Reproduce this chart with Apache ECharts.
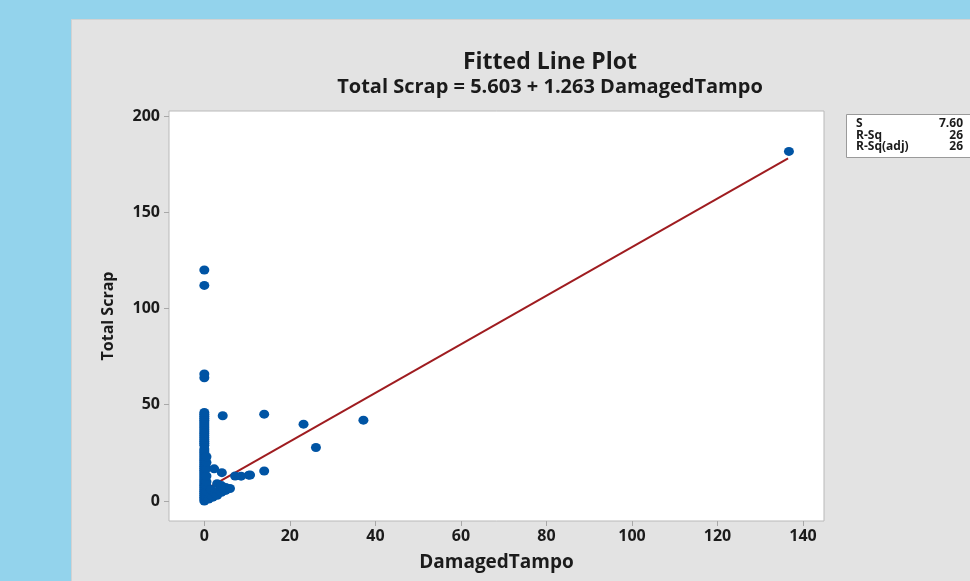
<!DOCTYPE html>
<html>
<head>
<meta charset="utf-8">
<script src="https://cdn.jsdelivr.net/npm/echarts@6/dist/echarts.min.js"></script>
<style>
  html, body { margin: 0; padding: 0; background: #93d3ec; }
  #chart { width: 970px; height: 581px; }
</style>
</head>
<body>
<div id="chart"></div>
<script>
// scatter points (DamagedTampo, Total Scrap)
const pointsX = [
  0, 0, 0, 0, 0, 0, 0, 0, 0, 0, 0, 0, 0, 0, 0, 0, 0, 0, 0, 0,
  0, 0, 0, 0, 0, 0, 0, 0, 0, 0, 0, 0, 0, 0, 0, 0, 0, 0, 0, 0,
  0, 0, 0, 0, 0, 0, 0, 0, 0, 0,
  0.5, 0.5, 0.5, 0.5, 0.5, 0.5, 0.5, 0.5,
  1, 1.5, 1.5, 2, 2.5, 3, 3, 3.5, 4, 4, 4.5, 5, 5, 6,
  2.3, 4.1, 7.2, 8.6, 10.4, 14, 10.7,
  4.3, 14, 23.2, 26.1, 37.2, 136.7
]
const pointsY = [
  0, 1, 2, 3, 4, 5, 6, 7, 8, 9, 10, 11, 12, 13, 14, 15, 16, 17, 18, 19,
  20, 21, 22, 23, 24, 25, 26, 27, 29, 30, 31, 32, 33, 34, 35, 36, 37, 38, 39, 40,
  41, 42, 43, 44, 45, 46, 64, 66, 112, 120,
  2, 5, 8, 10, 13, 17, 20, 23,
  1, 3, 6, 2, 4, 3, 9, 5.5, 4.5, 8, 6, 5.5, 7, 6.5,
  16.7, 14.7, 13, 12.9, 13.4, 15.6, 13.5,
  44.3, 45.1, 39.9, 27.8, 42, 181.6
]

// fitted line: Total Scrap = 5.603 + 1.263 DamagedTampo
const fitX = [0, 136.5]
const fitY = [5.603, 178.0]

const xTicks = [0, 20, 40, 60, 80, 100, 120, 140]
const yTicks = [0, 50, 100, 150, 200]

const statNames = ['S', 'R-Sq', 'R-Sq(adj)']
const statValues = ['7.60', '26', '26']

const FONT = '"Open Sans", "Noto Sans", sans-serif'
const TEXT = '#1b1b1b'

const chart = echarts.init(document.getElementById('chart'))

const statGraphics = []
statNames.forEach((name, i) => {
  statGraphics.push({
    type: 'text', left: 856, top: 118 + i * 11.3, z: 6,
    style: { text: name, font: 'bold 12px ' + FONT, fill: TEXT }
  })
  statGraphics.push({
    type: 'text', right: 7, top: 118 + i * 11.3, z: 6,
    style: { text: statValues[i], font: 'bold 12px ' + FONT, fill: TEXT, align: 'right' }
  })
})

const option = {
  animation: false,
  backgroundColor: '#93d3ec',
  graphic: [
    {
      type: 'rect', left: 71, top: 19, z: -10,
      shape: { width: 905, height: 570 },
      style: { fill: '#e3e3e3', stroke: '#d2d2d2', lineWidth: 1 }
    },
    {
      type: 'rect', left: 846, top: 114, z: 5,
      shape: { width: 140, height: 43 },
      style: { fill: '#ffffff', stroke: '#9a9a9a', lineWidth: 1 }
    },
    ...statGraphics
  ],
  title: {
    text: 'Fitted Line Plot',
    subtext: 'Total Scrap = 5.603 + 1.263 DamagedTampo',
    left: 545,
    textAlign: 'center',
    top: 46,
    itemGap: 3,
    textStyle: { fontFamily: FONT, fontSize: 23, fontWeight: 'bold', color: TEXT },
    subtextStyle: { fontFamily: FONT, fontSize: 20, fontWeight: 'bold', color: TEXT }
  },
  grid: {
    left: 169, top: 111, width: 655, height: 410,
    show: true, backgroundColor: '#ffffff', borderColor: '#b9b9b9', borderWidth: 1
  },
  xAxis: {
    type: 'value',
    min: -8.26, max: 144.9,
    name: 'DamagedTampo',
    nameLocation: 'middle',
    nameGap: 32,
    nameTextStyle: { fontFamily: FONT, fontSize: 19, fontWeight: 'bold', color: TEXT },
    axisLine: { show: false, onZero: false },
    axisTick: { show: true, length: 5, lineStyle: { color: '#a8a8a8' }, customValues: xTicks },
    axisLabel: {
      customValues: xTicks, margin: 7,
      fontFamily: FONT, fontSize: 16, fontWeight: 'bold', color: TEXT
    },
    splitLine: { show: false }
  },
  yAxis: {
    type: 'value',
    min: -10.4, max: 202.6,
    name: 'Total Scrap',
    nameLocation: 'middle',
    nameGap: 53,
    nameTextStyle: { fontFamily: FONT, fontSize: 16, fontWeight: 'bold', color: TEXT },
    axisLine: { show: false, onZero: false },
    axisTick: { show: true, length: 5, lineStyle: { color: '#a8a8a8' }, customValues: yTicks },
    axisLabel: {
      customValues: yTicks, margin: 9,
      fontFamily: FONT, fontSize: 16, fontWeight: 'bold', color: TEXT
    },
    splitLine: { show: false }
  },
  series: [
    {
      type: 'line',
      data: fitX.map((x, i) => [x, fitY[i]]),
      symbol: 'none',
      lineStyle: { color: '#9f1c20', width: 2 },
      z: 2
    },
    {
      type: 'scatter',
      data: pointsX.map((x, i) => [x, pointsY[i]]),
      symbol: 'circle',
      symbolSize: [10, 9],
      itemStyle: { color: '#0054a4', opacity: 1 },
      z: 3
    }
  ]
}

chart.setOption(option)
</script>
</body>
</html>
